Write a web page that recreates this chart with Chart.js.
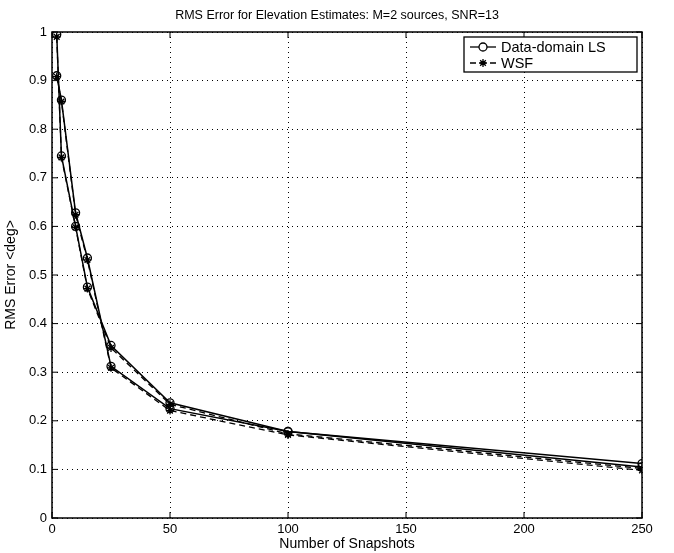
<!DOCTYPE html>
<html>
<head>
<meta charset="utf-8">
<script src="https://cdn.jsdelivr.net/npm/chart.js@4.4.1/dist/chart.umd.min.js"></script>
<style>
  html, body { margin: 0; padding: 0; background: #fff; }
  #wrap { width: 674px; height: 553px; }
</style>
</head>
<body>
<div id="wrap"><canvas id="myChart" width="674" height="553"></canvas></div>
<script>
// values
const snapshots = [2, 4, 10, 15, 25, 50, 100, 250];
const lsSourceA = [0.995, 0.745, 0.600, 0.475, 0.355, 0.237, 0.178, 0.112];
const lsSourceB = [0.910, 0.860, 0.628, 0.535, 0.312, 0.225, 0.178, 0.105];
const wsfSourceA = [0.990, 0.742, 0.598, 0.472, 0.350, 0.234, 0.173, 0.102];
const wsfSourceB = [0.908, 0.857, 0.624, 0.531, 0.309, 0.221, 0.171, 0.098];
const xTicks = [0, 50, 100, 150, 200, 250];
const yTicks = [0, 0.1, 0.2, 0.3, 0.4, 0.5, 0.6, 0.7, 0.8, 0.9, 1];

const FONT = 'Liberation Sans, Arial, Helvetica, sans-serif';

function pts(vals) {
  return snapshots.map((x, i) => ({ x: x, y: vals[i] }));
}

function lsSet(label, vals) {
  return {
    label: label,
    data: pts(vals),
    borderColor: '#000',
    borderWidth: 1.5,
    pointStyle: 'circle',
    pointRadius: 4,
    pointBorderWidth: 1.3,
    pointBorderColor: '#000',
    pointBackgroundColor: 'rgba(0,0,0,0)',
    tension: 0
  };
}

function wsfSet(label, vals) {
  return {
    label: label,
    data: pts(vals),
    borderColor: '#000',
    borderWidth: 1.3,
    borderDash: [6, 4],
    pointStyle: 'star',
    pointRadius: 4,
    pointBorderWidth: 1.3,
    pointBorderColor: '#000',
    tension: 0
  };
}

// MATLAB-like frame: box, inward ticks, legend in the corner
const framePlugin = {
  id: 'frame',
  afterDraw(chart) {
    const ctx = chart.ctx;
    const a = chart.chartArea;
    const xs = chart.scales.x, ys = chart.scales.y;
    ctx.save();
    ctx.strokeStyle = '#000';
    ctx.lineWidth = 1.5;
    ctx.strokeRect(a.left, a.top, a.right - a.left, a.bottom - a.top);
    ctx.lineWidth = 1;
    ctx.beginPath();
    xTicks.forEach(v => {
      const px = xs.getPixelForValue(v);
      ctx.moveTo(px, a.bottom); ctx.lineTo(px, a.bottom - 6);
      ctx.moveTo(px, a.top); ctx.lineTo(px, a.top + 6);
    });
    yTicks.forEach(v => {
      const py = ys.getPixelForValue(v);
      ctx.moveTo(a.left, py); ctx.lineTo(a.left + 6, py);
      ctx.moveTo(a.right, py); ctx.lineTo(a.right - 6, py);
    });
    ctx.stroke();

    // legend box
    const bx = 464, by = 37, bw = 173, bh = 35;
    ctx.fillStyle = '#fff';
    ctx.fillRect(bx, by, bw, bh);
    ctx.lineWidth = 1.3;
    ctx.strokeRect(bx, by, bw, bh);
    const entries = [chart.data.datasets[0], chart.data.datasets[2]];
    const names = ['Data-domain LS', 'WSF'];
    ctx.font = '14.5px ' + FONT;
    ctx.textBaseline = 'middle';
    entries.forEach((ds, i) => {
      const y = by + 10 + i * 16;
      ctx.strokeStyle = '#000';
      ctx.lineWidth = 1.3;
      ctx.setLineDash(ds.borderDash || []);
      ctx.beginPath();
      ctx.moveTo(bx + 6, y); ctx.lineTo(bx + 32, y);
      ctx.stroke();
      ctx.setLineDash([]);
      Chart.helpers.drawPoint(ctx, {
        pointStyle: ds.pointStyle, radius: 4, borderWidth: 1.3
      }, bx + 19, y);
      ctx.fillStyle = '#000';
      ctx.fillText(names[i], bx + 37, y + 1);
    });
    ctx.restore();
  }
};

function initChart() {
  const ctx = document.getElementById('myChart').getContext('2d');
  new Chart(ctx, {
    type: 'line',
    data: {
      datasets: [
        lsSet('Data-domain LS', lsSourceA),
        lsSet('Data-domain LS (2)', lsSourceB),
        wsfSet('WSF', wsfSourceA),
        wsfSet('WSF (2)', wsfSourceB)
      ]
    },
    options: {
      responsive: false,
      animation: false,
      layout: { padding: 0 },
      plugins: {
        legend: { display: false },
        tooltip: { enabled: false },
        title: {
          display: true,
          text: 'RMS Error for Elevation Estimates: M=2 sources, SNR=13',
          color: '#000',
          font: { family: FONT, size: 12.5, weight: 'normal' },
          padding: { top: 8, bottom: 9 }
        }
      },
      scales: {
        x: {
          type: 'linear',
          min: 0, max: 250,
          afterBuildTicks: s => { s.ticks = xTicks.map(v => ({ value: v })); },
          afterFit: s => { s.height = 35; },
          grid: {
            color: '#000',
            lineWidth: 1,
            drawTicks: false
          },
          border: { display: false, dash: [1, 4] },
          ticks: {
            color: '#000',
            padding: 4,
            maxRotation: 0,
            font: { family: FONT, size: 13 }
          },
          title: {
            display: true,
            text: 'Number of Snapshots',
            color: '#000',
            padding: 0,
            font: { family: FONT, size: 14 }
          }
        },
        y: {
          type: 'linear',
          min: 0, max: 1,
          afterBuildTicks: s => { s.ticks = yTicks.map(v => ({ value: v })); },
          afterFit: s => { s.width = 52; },
          grid: {
            color: '#000',
            lineWidth: 1,
            drawTicks: false
          },
          border: { display: false, dash: [1, 4] },
          ticks: {
            color: '#000',
            padding: 5,
            font: { family: FONT, size: 13 },
            callback: v => String(Math.round(v * 10) / 10)
          },
          title: {
            display: true,
            text: 'RMS Error <deg>',
            color: '#000',
            padding: { top: 3, bottom: 0 },
            font: { family: FONT, size: 14 }
          }
        },
        // empty right margin so the title centres on the whole figure
        yRight: {
          type: 'linear',
          position: 'right',
          min: 0, max: 1,
          afterFit: s => { s.width = 32; },
          grid: { display: false },
          border: { display: false },
          ticks: { display: false }
        }
      }
    },
    plugins: [framePlugin]
  });
}

document.addEventListener('DOMContentLoaded', initChart);
</script>
</body>
</html>
